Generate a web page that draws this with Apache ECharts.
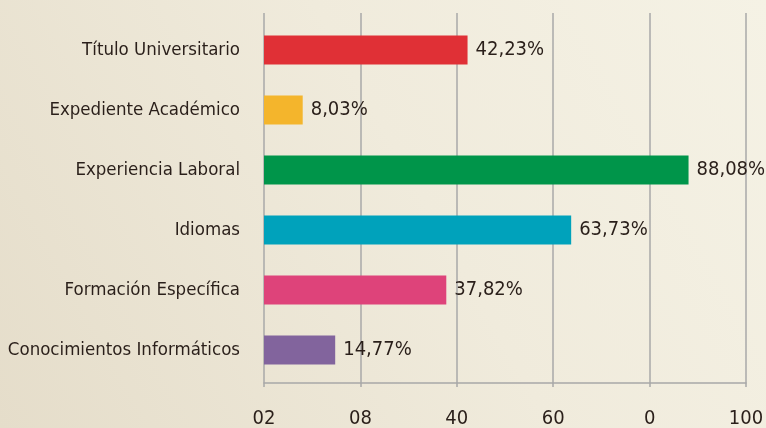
<!DOCTYPE html>
<html>
<head>
<meta charset="utf-8">
<script src="https://cdn.jsdelivr.net/npm/echarts@6/dist/echarts.min.js"></script>
<style>
  html, body { margin: 0; padding: 0; }
  #chart { width: 766px; height: 428px; }
</style>
</head>
<body>
<div id="chart"></div>
<script>
var categories = ['Título Universitario', 'Expediente Académico', 'Experiencia Laboral', 'Idiomas', 'Formación Específica', 'Conocimientos Informáticos'];
var values = [42.23, 8.03, 88.08, 63.73, 37.82, 14.77];
var barColors = ['#e03036', '#f4b52c', '#00954a', '#00a2bb', '#de437a', '#82649d'];
var tickLabels = ['02', '08', '40', '60', '0', '100'];

var fontFam = '"DejaVu Sans Condensed", "DejaVu Sans", sans-serif';
var txtColor = '#2a1f1a';

var chart = echarts.init(document.getElementById('chart'));

var option = {
  backgroundColor: new echarts.graphic.LinearGradient(0, 1, 1, 0, [
    { offset: 0, color: '#e5ddca' },
    { offset: 0.55, color: '#f0ebdc' },
    { offset: 1, color: '#f5f2e5' }
  ]),
  animation: false,
  grid: [
    // axis + gridlines
    { left: 264, right: 20, top: 13, bottom: 45, outerBoundsMode: 'none', containLabel: false },
    // bars
    { left: 264, right: 20, top: 20, bottom: 48, outerBoundsMode: 'none', containLabel: false }
  ],
  xAxis: [
    {
      gridIndex: 0,
      type: 'value',
      min: 0,
      max: 100,
      interval: 20,
      axisLine: { show: true, lineStyle: { color: '#a8a8a8', width: 1.5 } },
      axisTick: { show: true, length: 4, lineStyle: { color: '#a8a8a8', width: 1.5 } },
      splitLine: { show: true, lineStyle: { color: '#a8a8a8', width: 1.5 } },
      axisLabel: {
        margin: 26,
        fontFamily: fontFam,
        fontSize: 20,
        color: txtColor,
        formatter: function (v) { return tickLabels[Math.round(v / 20)]; }
      }
    },
    {
      gridIndex: 1,
      type: 'value',
      min: 0,
      max: 100,
      show: false
    }
  ],
  yAxis: [
    {
      gridIndex: 0,
      type: 'value',
      show: false
    },
    {
      gridIndex: 1,
      type: 'category',
      inverse: true,
      data: categories,
      axisLine: { show: false },
      axisTick: { show: false },
      splitLine: { show: false },
      axisLabel: {
        margin: 24,
        fontFamily: fontFam,
        fontSize: 18.5,
        color: txtColor
      }
    }
  ],
  series: [
    {
      type: 'bar',
      xAxisIndex: 1,
      yAxisIndex: 1,
      barWidth: 29,
      data: values.map(function (v, i) {
        return { value: v, itemStyle: { color: barColors[i] } };
      }),
      label: {
        show: true,
        position: 'right',
        distance: 8,
        fontFamily: fontFam,
        fontSize: 20,
        color: txtColor,
        formatter: function (p) { return p.value.toFixed(2).replace('.', ',') + '%'; }
      }
    }
  ]
};

chart.setOption(option);
</script>
</body>
</html>
